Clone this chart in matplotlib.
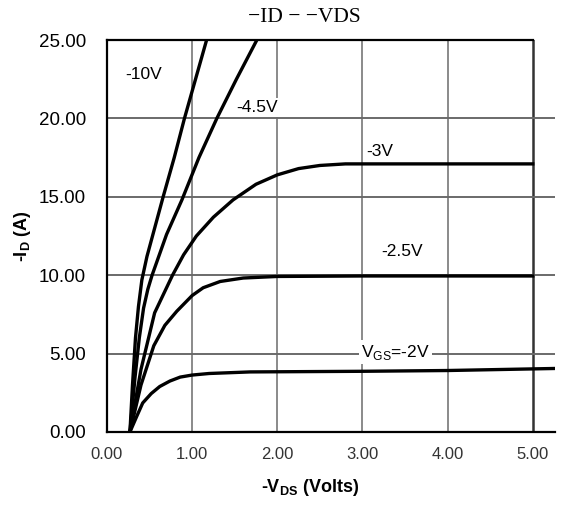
"""
Output characteristics (-ID vs -VDS) for a P-channel MOSFET, redrawn from a datasheet scan.
"""

import matplotlib

matplotlib.use("Agg")
import matplotlib.pyplot as plt  # noqa: E402

plt.rcParams["font.family"] = ["Liberation Sans", "DejaVu Sans"]
plt.rcParams["mathtext.fontset"] = "custom"
plt.rcParams["mathtext.rm"] = "Liberation Sans"
plt.rcParams["mathtext.bf"] = "Liberation Sans:bold"

# curves: -VDS (V) and -ID (A) for each gate voltage
vds_10v = [0.27, 0.30, 0.335, 0.37, 0.41, 0.47, 0.535, 0.66, 0.79, 0.91, 1.04, 1.17]
id_10v = [0.0, 3.0, 6.0, 8.0, 9.7, 11.2, 12.5, 15.0, 17.5, 20.0, 22.5, 25.0]

vds_45v = [0.27, 0.33, 0.38, 0.43, 0.48, 0.53, 0.70, 0.88, 1.08, 1.29, 1.52, 1.76]
id_45v = [0.0, 3.5, 6.0, 7.9, 9.1, 10.0, 12.6, 14.8, 17.5, 20.0, 22.5, 25.0]

vds_3v = [0.27, 0.40, 0.56, 0.77, 0.90, 1.05, 1.25, 1.48, 1.75, 2.00, 2.25, 2.50,
          2.80, 3.00, 4.00, 5.00]
id_3v = [0.0, 4.0, 7.6, 10.0, 11.3, 12.5, 13.7, 14.8, 15.8, 16.4, 16.8, 17.0,
         17.1, 17.1, 17.1, 17.1]

vds_25v = [0.27, 0.40, 0.55, 0.68, 0.82, 1.00, 1.13, 1.33, 1.60, 2.00, 3.00, 4.00, 5.00]
id_25v = [0.0, 3.0, 5.5, 6.8, 7.7, 8.7, 9.2, 9.6, 9.82, 9.92, 9.95, 9.95, 9.95]

vds_2v = [0.27, 0.35, 0.42, 0.52, 0.62, 0.74, 0.86, 1.00, 1.20, 1.68, 3.00, 4.00, 5.26]
id_2v = [0.0, 1.0, 1.85, 2.45, 2.9, 3.25, 3.5, 3.63, 3.73, 3.83, 3.87, 3.92, 4.05]

x_ticks = [0, 1, 2, 3, 4, 5]
x_tick_labels = ["0.00", "1.00", "2.00", "3.00", "4.00", "5.00"]
y_ticks = [0, 5, 10, 15, 20, 25]
y_tick_labels = ["0.00", "5.00", "10.00", "15.00", "20.00", "25.00"]

curve_labels = [
    ("-10V", 0.22, 22.8, None),
    ("-4.5V", 1.52, 20.7, "white"),
    ("-3V", 3.05, 17.9, None),
    ("-2.5V", 3.22, 11.5, None),
    ("V$_{\\rm GS}$=-2V", 2.98, 5.1, "white"),
]


def main():
    fig = plt.figure(figsize=(5.75, 5.07), dpi=100)
    ax = fig.add_axes([0.186, 0.148, 0.779, 0.773])

    for xs, ys in [
        (vds_10v, id_10v),
        (vds_45v, id_45v),
        (vds_3v, id_3v),
        (vds_25v, id_25v),
        (vds_2v, id_2v),
    ]:
        ax.plot(xs, ys, color="black", linewidth=2.4, solid_joinstyle="round", zorder=3)

    ax.set_xlim(0, 5.26)
    ax.set_ylim(0, 25)

    # grid: vertical lines at each volt, horizontal at each 5 A
    for xv in x_ticks[1:-1]:
        ax.axvline(xv, color="#8a8a8a", linewidth=1.4, zorder=1)
    ax.axvline(5, color="#333333", linewidth=1.8, zorder=1)
    for yv in y_ticks[1:-1]:
        ax.axhline(yv, color="#6a6a6a", linewidth=1.4, zorder=1)

    ax.set_xticks(x_ticks)
    ax.set_xticklabels(x_tick_labels, fontsize=12, color="#333333")
    ax.set_yticks(y_ticks)
    ax.set_yticklabels(y_tick_labels, fontsize=13.5)
    ax.tick_params(axis="both", length=0)
    ax.tick_params(axis="y", pad=15)
    ax.tick_params(axis="x", pad=11)

    ax.spines["right"].set_visible(False)
    ax.spines["top"].set_bounds(0, 5)
    for side in ("left", "bottom", "top"):
        ax.spines[side].set_linewidth(1.6)

    for text, tx, ty, bg in curve_labels:
        kw = {}
        if bg:
            kw["bbox"] = dict(facecolor=bg, edgecolor="none", pad=1.5)
        ax.text(tx, ty, text, fontsize=12.5, va="center", ha="left", zorder=4, **kw)

    ax.set_ylabel(r"-I$_{\mathbf{D}}$ (A)", fontsize=13, fontweight="bold")
    ax.set_xlabel(r"-V$_{\mathbf{DS}}$ (Volts)", fontsize=13, fontweight="bold")
    ax.yaxis.set_label_coords(-0.165, 0.5)
    ax.xaxis.set_label_coords(0.453, -0.115)

    fig.text(0.53, 0.965, "−ID − −VDS", fontsize=15.5, ha="center", va="center",
             family=["Liberation Serif", "DejaVu Serif"])

    fig.savefig("out.png", dpi=100)
    plt.close(fig)


if __name__ == "__main__":
    main()
